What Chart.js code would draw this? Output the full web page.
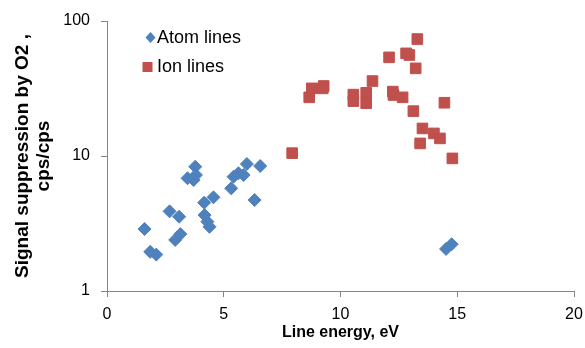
<!DOCTYPE html>
<html>
<head>
<meta charset="utf-8">
<script src="https://cdn.jsdelivr.net/npm/chart.js@4.4.0/dist/chart.umd.min.js"></script>
<style>
  html, body { margin: 0; padding: 0; background: #fff; }
  #wrap { width: 585px; height: 348px; }
</style>
</head>
<body>
<div id="wrap"><canvas id="chart" width="585" height="348"></canvas></div>
<script>
// Atom lines (energy eV, suppression cps/cps)
const atomEnergy = [1.61, 1.85, 2.11, 2.68, 3.09, 2.92, 3.14, 3.45, 3.78, 3.81, 3.71, 4.16, 4.56, 4.18, 4.30, 4.39, 5.32, 5.42, 5.63, 5.85, 5.99, 6.56, 6.32, 14.52, 14.76];
const atomSupp   = [2.88, 1.95, 1.86, 3.89, 3.55, 2.39, 2.64, 6.84, 8.33, 7.23, 6.64, 4.51, 4.94, 3.65, 3.26, 2.99, 5.76, 7.03, 7.45, 7.23, 8.73, 8.43, 4.72, 2.05, 2.22];

// Ion lines
const ionEnergy = [7.93, 8.66, 8.77, 9.24, 9.28, 10.55, 10.55, 11.10, 11.10, 11.37, 12.08, 12.27, 12.24, 12.66, 12.81, 12.95, 13.29, 13.22, 13.12, 13.51, 13.41, 14.00, 14.26, 14.45, 14.79];
const ionSupp   = [10.5, 27.2, 31.7, 31.7, 33.0, 28.5, 25.5, 29.4, 24.6, 35.9, 53.8, 28.3, 30.0, 27.2, 57.6, 56.0, 73.5, 44.6, 21.5, 16.0, 12.4, 14.7, 13.5, 24.8, 9.6];

const xTicks = [0, 5, 10, 15, 20];
const yTicks = [1, 10, 100];

const blue = '#4F81BD';
const red = '#C0504D';
const axisGray = '#868686';

function toPoints(xs, ys) {
  return xs.map((x, i) => ({ x: x, y: ys[i] }));
}

// legend drawn inside the plot, top-left
const insideLegend = {
  id: 'insideLegend',
  afterDraw(chart) {
    const ctx = chart.ctx;
    ctx.save();
    ctx.font = '18px "Liberation Sans", Arial, sans-serif';
    ctx.textBaseline = 'middle';
    ctx.textAlign = 'left';

    // diamond
    ctx.fillStyle = blue;
    ctx.beginPath();
    ctx.moveTo(150.5, 32);
    ctx.lineTo(155.5, 37.5);
    ctx.lineTo(150.5, 43);
    ctx.lineTo(145.5, 37.5);
    ctx.closePath();
    ctx.fill();
    ctx.fillStyle = '#000';
    ctx.fillText(chart.data.datasets[0].label, 157, 38);

    // square
    ctx.fillStyle = red;
    ctx.fillRect(142.5, 62, 10, 10);
    ctx.fillStyle = '#000';
    ctx.fillText(chart.data.datasets[1].label, 157, 67);
    ctx.restore();
  }
};

const ctx = document.getElementById('chart').getContext('2d');
new Chart(ctx, {
  type: 'scatter',
  data: {
    datasets: [
      {
        label: 'Atom lines',
        data: toPoints(atomEnergy, atomSupp),
        pointStyle: 'rectRot',
        pointRadius: 6.5,
        backgroundColor: blue,
        borderColor: blue,
        borderWidth: 1
      },
      {
        label: 'Ion lines',
        data: toPoints(ionEnergy, ionSupp),
        pointStyle: 'rect',
        pointRadius: 7.5,
        backgroundColor: red,
        borderColor: red,
        borderWidth: 1
      }
    ]
  },
  options: {
    responsive: false,
    animation: false,
    layout: { padding: { top: 21, right: 11, left: 0, bottom: 0 } },
    plugins: {
      legend: { display: false },
      tooltip: { enabled: false }
    },
    scales: {
      x: {
        type: 'linear',
        min: 0,
        max: 20,
        afterBuildTicks: (scale) => { scale.ticks = xTicks.map(v => ({ value: v })); },
        afterFit: (scale) => {
          scale.height = 57;
          scale.paddingLeft = 0;
          scale.paddingRight = 0;
        },
        grid: { drawOnChartArea: false, drawTicks: true, tickLength: 6, color: axisGray },
        border: { color: axisGray, width: 1 },
        ticks: {
          color: '#000',
          padding: 8,
          maxRotation: 0,
          font: { family: '"Liberation Sans", Arial, sans-serif', size: 16 }
        },
        title: {
          display: true,
          text: 'Line energy, eV',
          color: '#000',
          padding: { top: 0, bottom: 6 },
          font: { family: '"Liberation Sans", Arial, sans-serif', size: 16, weight: 'bold' }
        }
      },
      y: {
        type: 'logarithmic',
        min: 1,
        max: 100,
        afterBuildTicks: (scale) => { scale.ticks = yTicks.map(v => ({ value: v })); },
        afterFit: (scale) => {
          scale.width = 107;
          scale.paddingTop = 0;
          scale.paddingBottom = 0;
        },
        grid: { drawOnChartArea: false, drawTicks: true, tickLength: 6, color: axisGray },
        border: { color: axisGray, width: 1 },
        ticks: {
          color: '#000',
          padding: 11,
          callback: (v) => String(v),
          font: { family: '"Liberation Sans", Arial, sans-serif', size: 16 }
        },
        title: {
          display: true,
          text: ['Signal suppression by O2 ,', 'cps/cps'],
          color: '#000',
          padding: { top: 12, bottom: 0 },
          font: { family: '"Liberation Sans", Arial, sans-serif', size: 19, weight: 'bold', lineHeight: 1.1 }
        }
      }
    }
  },
  plugins: [insideLegend]
});
</script>
</body>
</html>
